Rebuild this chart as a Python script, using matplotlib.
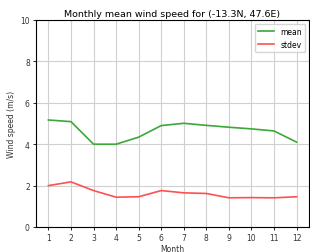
import matplotlib
matplotlib.use("Agg")
import matplotlib.pyplot as plt

months = [1, 2, 3, 4, 5, 6, 7, 8, 9, 10, 11, 12]
mean_ws = [5.17, 5.09, 4.0, 4.0, 4.34, 4.9, 5.01, 4.91, 4.82, 4.74, 4.64, 4.1]
stdev_ws = [2.0, 2.18, 1.76, 1.44, 1.46, 1.76, 1.65, 1.62, 1.41, 1.42, 1.41, 1.46]

fig = plt.figure(figsize=(3.10, 2.53), dpi=100)
ax = fig.add_axes([36/310, 1 - 228/253, (309-36)/310, (228-21)/253])
ax.plot(months, mean_ws, color="#3aa83a", lw=1.2, label="mean")
ax.plot(months, stdev_ws, color="#ff5050", lw=1.2, label="stdev")
ax.set_ylim(0, 10)
ax.set_xticks(months)
ax.grid(True, color="#d0d0d0", lw=0.8)
ax.tick_params(labelsize=5.5, length=2.5, width=0.6, pad=2, labelcolor="#333333")
for s in ax.spines.values():
    s.set_linewidth(0.8)
ax.set_xlabel("Month", fontsize=5.5, labelpad=1, color="#333333")
ax.set_ylabel("Wind speed (m/s)", fontsize=5.5, labelpad=3, color="#333333")
ax.set_title("Monthly mean wind speed for (-13.3N, 47.6E)", fontsize=6.8, pad=3)
ax.legend(loc="upper right", fontsize=5.5, handlelength=2.2, borderpad=0.4)
fig.savefig("out.png", dpi=100)
